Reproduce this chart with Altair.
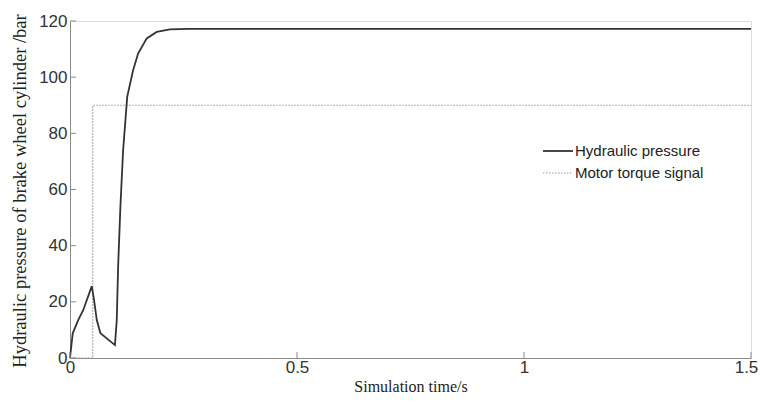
import altair as alt
import pandas as pd

# Hydraulic pressure (bar) vs time (s)
hyd_t = [0.0, 0.006, 0.018, 0.029, 0.048, 0.053, 0.059, 0.067, 0.099, 0.103, 0.106,
         0.111, 0.117, 0.126, 0.139, 0.150, 0.169, 0.191, 0.22, 0.26, 1.5]
hyd_p = [0.0, 8.8, 13.5, 17.0, 25.6, 20.6, 13.5, 8.8, 4.6, 13.5, 32.5,
         53.8, 74.0, 93.0, 102.5, 108.4, 113.8, 116.1, 117.0, 117.2, 117.2]

# Motor torque signal (step)
mot_t = [0.0, 0.05, 0.05, 1.5]
mot_p = [0.0, 0.0, 90.0, 90.0]

series_names = ["Hydraulic pressure", "Motor torque signal"]
x_ticks = [0, 0.5, 1, 1.5]
y_ticks = [0, 20, 40, 60, 80, 100, 120]

W, H = 681, 337

hyd_df = pd.DataFrame({"t": hyd_t, "p": hyd_p, "i": range(len(hyd_t))})
mot_df = pd.DataFrame({"t": mot_t, "p": mot_p, "i": range(len(mot_t))})

xs = alt.Scale(domain=[0, 1.5], nice=False, zero=False)
ys = alt.Scale(domain=[0, 120], nice=False)

x_axis = alt.Axis(values=x_ticks, ticks=False, grid=False, domainColor="#8a8a8a",
                  labelFont="Liberation Sans", labelFontSize=17, labelColor="#333",
                  labelPadding=1, labelFlush=False,
                  labelOffset={"expr": "datum.value == 1.5 ? -5 : 0"},
                  title="Simulation time/s", titleFont="Liberation Serif",
                  titleFontSize=16, titleFontWeight="normal", titleColor="#222",
                  titlePadding=3, format="~g")
y_axis = alt.Axis(values=y_ticks, ticks=False, grid=False, domainColor="#8a8a8a",
                  labelFont="Liberation Sans", labelFontSize=17, labelColor="#333",
                  labelPadding=3, labelFlush=False,
                  title="Hydraulic pressure of brake wheel cylinder /bar",
                  titleFont="Liberation Serif", titleFontSize=18.5,
                  titleFontWeight="normal", titleColor="#222", titlePadding=9,
                  titleY=H / 2 + 1)

motor = alt.Chart(mot_df).mark_line(color="#999", strokeWidth=1.2,
                                    strokeDash=[1.5, 1.5]).encode(
    x=alt.X("t:Q", scale=xs, axis=x_axis),
    y=alt.Y("p:Q", scale=ys, axis=y_axis),
    order="i:Q",
)

hyd = alt.Chart(hyd_df).mark_line(color="#333", strokeWidth=1.8).encode(
    x=alt.X("t:Q", scale=xs),
    y=alt.Y("p:Q", scale=ys),
    order="i:Q",
)

xt = alt.Chart(pd.DataFrame({"v": x_ticks})).mark_rule(color="#8a8a8a").encode(
    x=alt.X("v:Q", scale=xs), y=alt.value(H), y2=alt.value(H - 6))
yt = alt.Chart(pd.DataFrame({"v": y_ticks})).mark_rule(color="#8a8a8a").encode(
    y=alt.Y("v:Q", scale=ys), x=alt.value(0), x2=alt.value(6))

# Manual legend
leg_x0, leg_x1, leg_tx = 473, 503, 505
leg_y = [130, 152]
leg1_line = alt.Chart(pd.DataFrame({"a": [0]})).mark_rule(
    color="#333", strokeWidth=1.8).encode(
    x=alt.value(leg_x0), x2=alt.value(leg_x1), y=alt.value(leg_y[0]))
leg2_line = alt.Chart(pd.DataFrame({"a": [0]})).mark_rule(
    color="#999", strokeWidth=1.2, strokeDash=[1.5, 1.5]).encode(
    x=alt.value(leg_x0), x2=alt.value(leg_x1), y=alt.value(leg_y[1]))
leg1_text = alt.Chart(pd.DataFrame({"label": [series_names[0]]})).mark_text(
    align="left", baseline="middle", font="Liberation Sans", fontSize=15,
    color="#222").encode(x=alt.value(leg_tx), y=alt.value(leg_y[0]), text="label:N")
leg2_text = alt.Chart(pd.DataFrame({"label": [series_names[1]]})).mark_text(
    align="left", baseline="middle", font="Liberation Sans", fontSize=15,
    color="#222").encode(x=alt.value(leg_tx), y=alt.value(leg_y[1]), text="label:N")

chart = alt.layer(motor, hyd, xt, yt, leg1_line, leg2_line, leg1_text, leg2_text).properties(
    width=W, height=H,
    autosize=alt.AutoSizeParams(type="none"),
    padding={"left": 62, "top": 13, "right": 7, "bottom": 36},
).configure_view(stroke=None).configure(background="white")

chart.save("out.html", embed_options={"renderer": "svg", "actions": False})
